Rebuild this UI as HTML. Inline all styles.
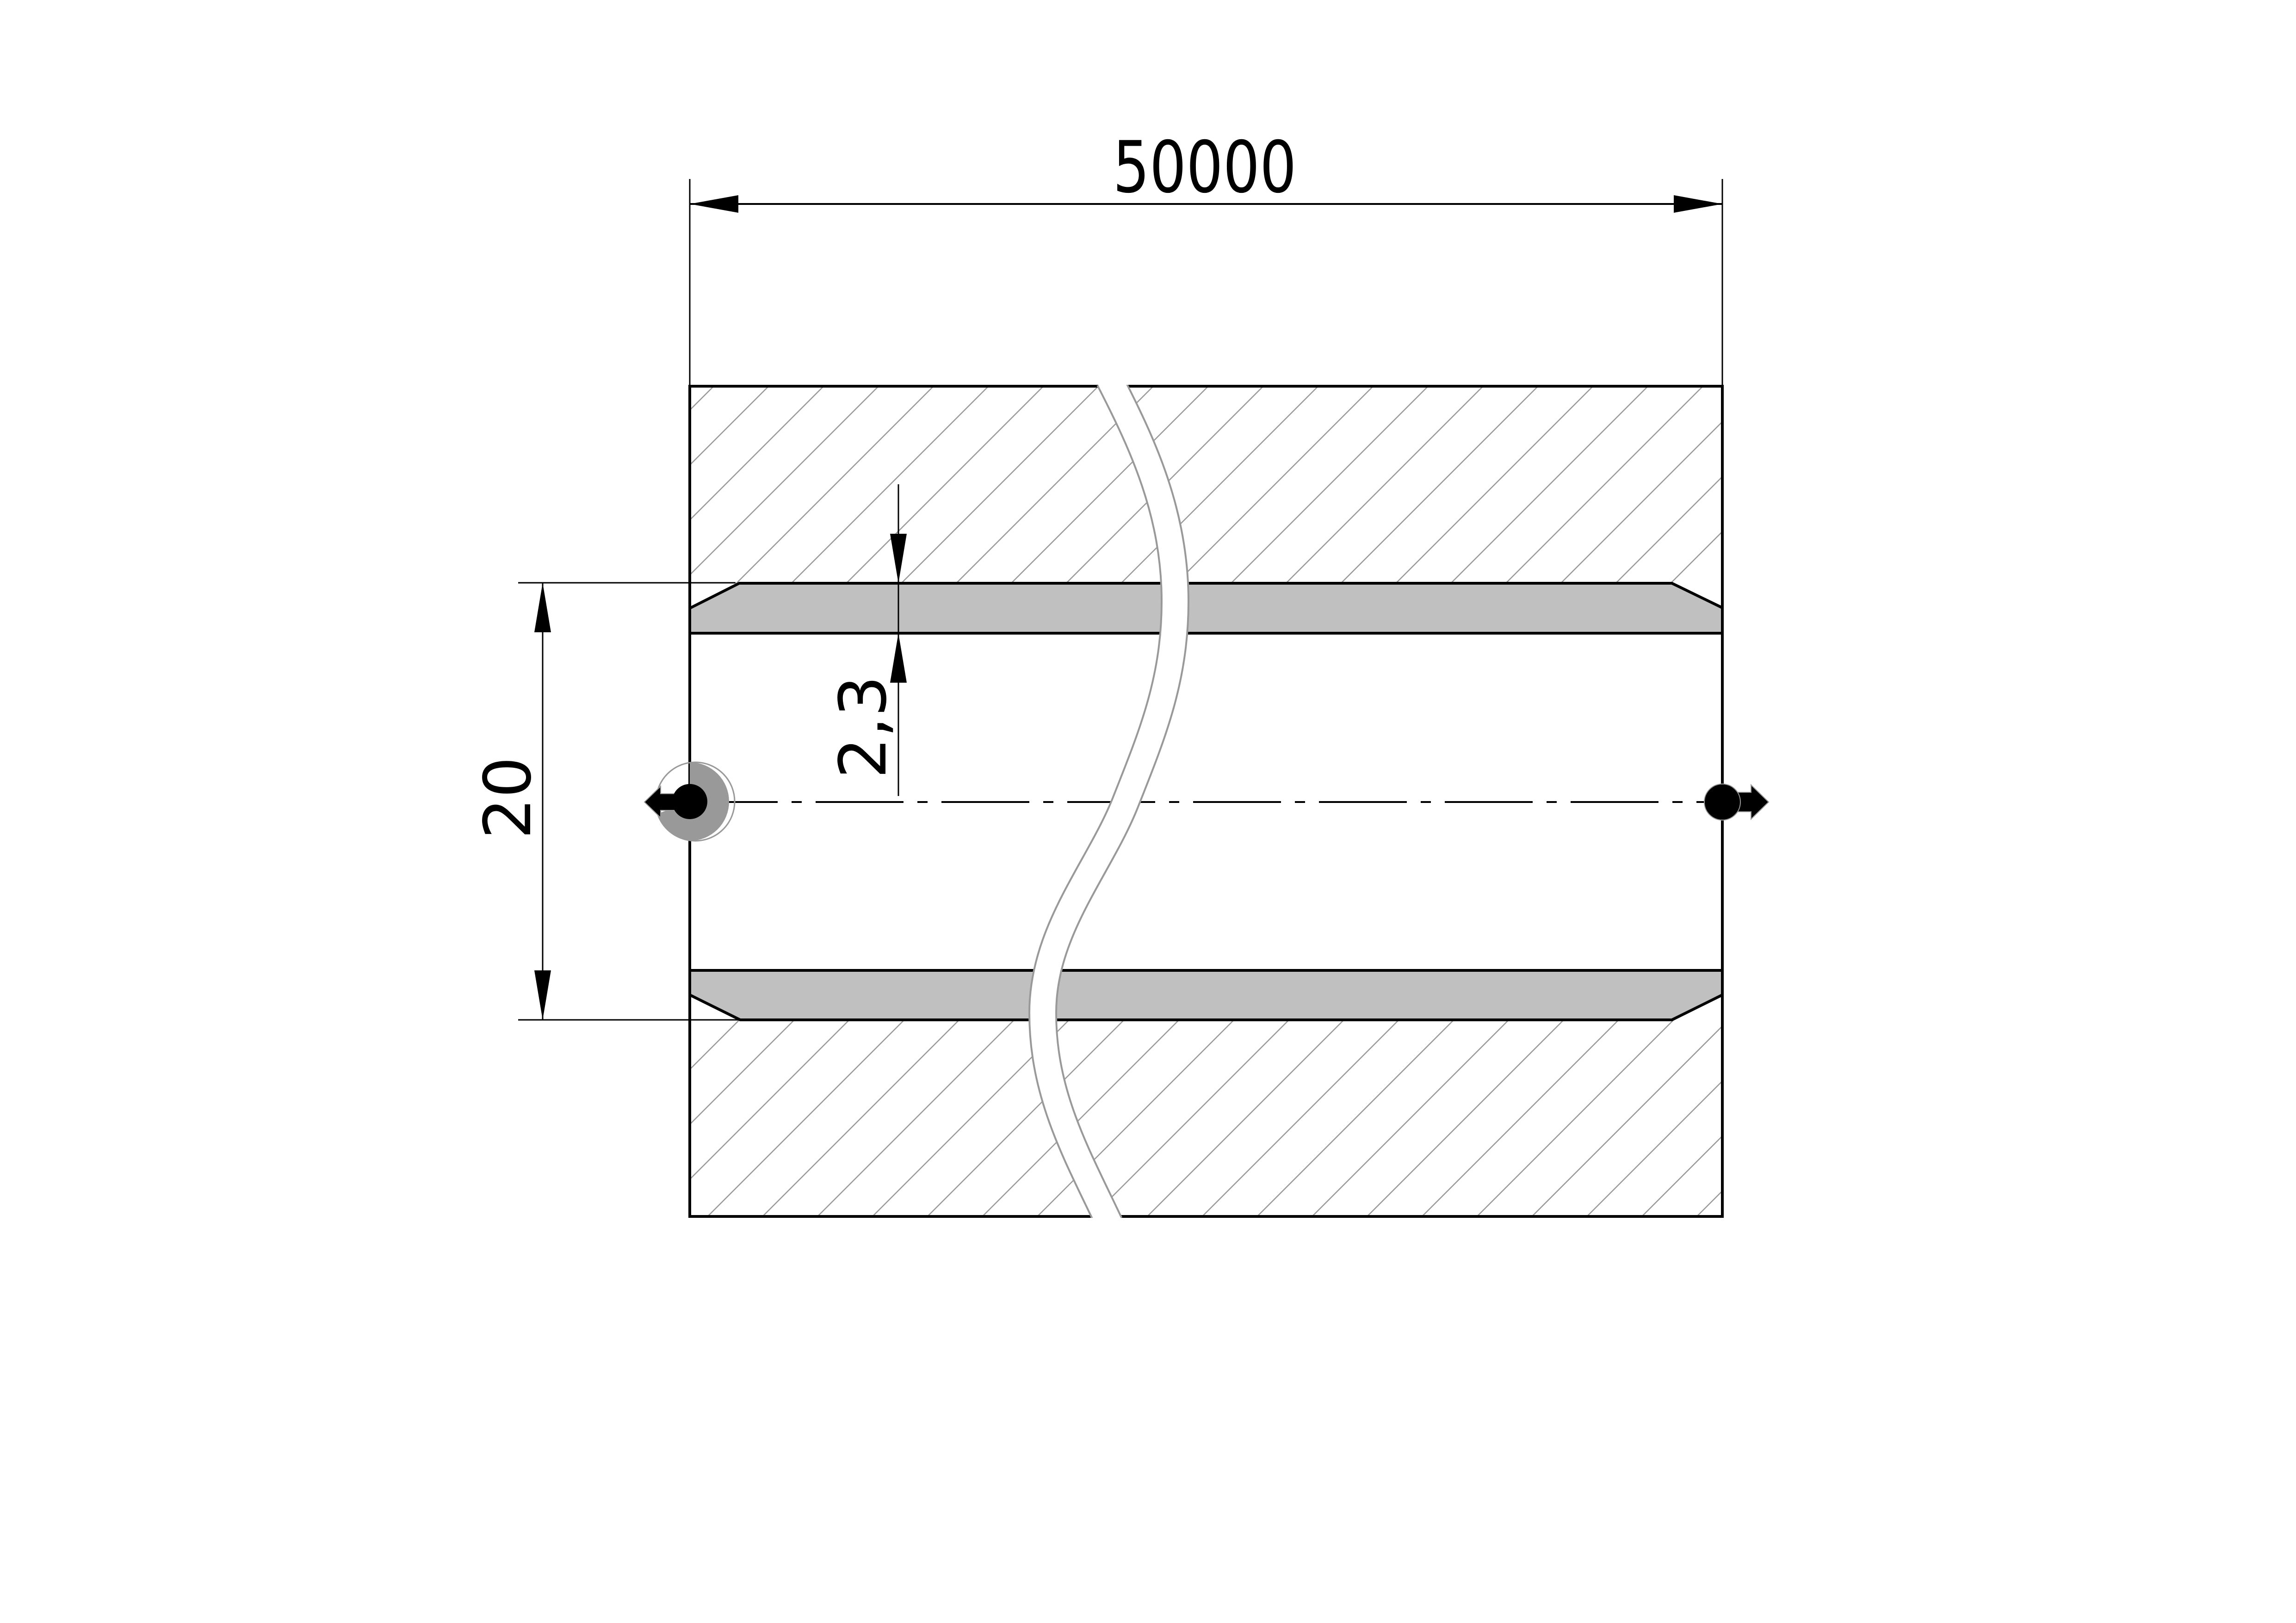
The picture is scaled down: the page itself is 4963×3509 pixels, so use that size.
<!DOCTYPE html>
<html><head><meta charset="utf-8"><style>html,body{margin:0;padding:0;background:#fff}svg{display:block}</style></head>
<body>
<svg xmlns="http://www.w3.org/2000/svg" width="4963" height="3509" viewBox="0 0 4963 3509">
<defs>
<pattern id="h" patternUnits="userSpaceOnUse" width="84" height="84" patternTransform="rotate(45)">
<line x1="0" y1="0" x2="0" y2="84" stroke="#999" stroke-width="5"/>
</pattern>
</defs>
<rect width="4963" height="3509" fill="#fff"/>
<rect x="1491" y="835" width="2232" height="426" fill="url(#h)"/>
<rect x="1491" y="2205" width="2232" height="425" fill="url(#h)"/>
<polygon points="1491,1315 1598,1261 3614,1261 3723,1314 3723,1369 1491,1369" fill="#c0c0c0"/>
<polygon points="1491,2151 1600,2205 3614,2205 3723,2151 3723,2098 1491,2098" fill="#c0c0c0"/>
<line x1="1491" y1="1734" x2="3723" y2="1734" stroke="#000" stroke-width="4" stroke-dasharray="190 30 22 30"/>
<g stroke="#000" stroke-width="6" fill="none">
<rect x="1491" y="835" width="2232" height="1795"/>
<polyline points="1491,1315 1598,1261 3614,1261 3723,1314"/>
<line x1="1491" y1="1369" x2="3723" y2="1369"/>
<polyline points="1491,2151 1600,2205 3614,2205 3723,2151"/>
<line x1="1491" y1="2098" x2="3723" y2="2098"/>
</g>
<g fill="none">
<path d="M2398,820 C2470,960 2540,1110 2540,1300 C2540,1470 2490,1590 2433,1734 C2376,1878 2254,2010 2254,2190 C2254,2370 2330,2500 2398,2645" stroke="#999" stroke-width="62"/>
<path d="M2398,820 C2470,960 2540,1110 2540,1300 C2540,1470 2490,1590 2433,1734 C2376,1878 2254,2010 2254,2190 C2254,2370 2330,2500 2398,2645" stroke="#fff" stroke-width="54"/>
</g>
<rect x="2300" y="790" width="200" height="42" fill="#fff"/>
<rect x="2300" y="2633" width="200" height="40" fill="#fff"/>
<g stroke="#000">
<line x1="1491" y1="387" x2="1491" y2="835" stroke-width="3"/>
<line x1="3723" y1="387" x2="3723" y2="835" stroke-width="3"/>
<line x1="1491" y1="441" x2="3723" y2="441" stroke-width="4"/>
</g>
<polygon points="1491,441 1596,422 1596,460"/>
<polygon points="3723,441 3618,422 3618,460"/>
<text x="2604" y="415" font-family="DejaVu Sans, Liberation Sans, sans-serif" font-size="154" text-anchor="middle" textLength="397" lengthAdjust="spacingAndGlyphs">50000</text>
<g stroke="#000" stroke-width="3">
<line x1="1120" y1="1260" x2="1590" y2="1260"/>
<line x1="1120" y1="2205" x2="1600" y2="2205"/>
<line x1="1173" y1="1260" x2="1173" y2="2205"/>
</g>
<polygon points="1173,1260 1155,1367 1191,1367"/>
<polygon points="1173,2205 1155,2098 1191,2098"/>
<text transform="translate(1146,1725) rotate(-90)" font-family="DejaVu Sans, Liberation Sans, sans-serif" font-size="140" text-anchor="middle">20</text>
<g stroke="#000" stroke-width="3">
<line x1="1942" y1="1047" x2="1942" y2="1260"/>
<line x1="1942" y1="1260" x2="1942" y2="1721"/>
</g>
<polygon points="1942,1261 1924,1154 1960,1154"/>
<polygon points="1942,1369 1924,1476 1960,1476"/>
<text transform="translate(1914,1572) rotate(-90)" font-family="DejaVu Sans, Liberation Sans, sans-serif" font-size="140" text-anchor="middle">2,3</text>
<circle cx="1503" cy="1733" r="85" fill="none" stroke="#999" stroke-width="3"/>
<path d="M1491,1648 A85,85 0 0 1 1491,1818 A85,85 0 0 1 1420,1760 L1491,1733 Z" fill="#999"/>
<polygon points="1393,1734 1428,1700 1428,1716 1470,1716 1470,1752 1428,1752 1428,1768" fill="#000" stroke="#999" stroke-width="2"/>
<circle cx="1491" cy="1733" r="38" fill="#000"/>
<polygon points="3823,1734 3785,1697 3785,1713 3745,1713 3745,1755 3785,1755 3785,1771" fill="#000" stroke="#999" stroke-width="2"/>
<circle cx="3723" cy="1734" r="39" fill="#000" stroke="#999" stroke-width="2"/>
</svg>
</body></html>
